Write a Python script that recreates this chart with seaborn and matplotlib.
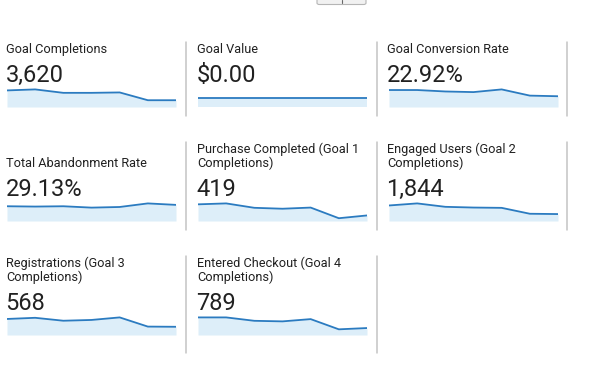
import matplotlib
matplotlib.use("Agg")
import matplotlib.pyplot as plt
import seaborn as sns
import pandas as pd
from matplotlib.patches import FancyBboxPatch
from matplotlib.lines import Line2D

# scorecard data (7 weekly points per sparkline)
weeks = [0, 1, 2, 3, 4, 5, 6]

titles = [
    "Goal Completions",
    "Goal Value",
    "Goal Conversion Rate",
    "Total Abandonment Rate",
    "Purchase Completed (Goal 1\nCompletions)",
    "Engaged Users (Goal 2\nCompletions)",
    "Registrations (Goal 3\nCompletions)",
    "Entered Checkout (Goal 4\nCompletions)",
]
totals = ["3,620", "$0.00", "22.92%", "29.13%", "419", "1,844", "568", "789"]

goal_completions = [656, 696, 560, 560, 576, 268, 268]
goal_value = [0, 0, 0, 0, 0, 0, 0]
conversion_rate = [24.6, 24.6, 22.5, 21.6, 25.5, 16.5, 15.6]
abandonment_rate = [28.0, 27.4, 28.0, 25.4, 26.6, 33.4, 30.6]
purchase_completed = [72, 76, 57, 53, 58, 12, 24]
engaged_users = [300, 340, 274, 260, 254, 140, 134]
registrations = [82, 88, 73, 77, 90, 43, 42]
entered_checkout = [124, 124, 100, 96, 112, 40, 49]

series = [goal_completions, goal_value, conversion_rate, abandonment_rate,
          purchase_completed, engaged_users, registrations, entered_checkout]

LINE = "#2b7bc0"
FILL = "#ddeef9"
TEXT = "#212121"
DIV = "#c4c4c4"

W, H = 601, 365
sns.set_theme(style="white")
plt.rcParams["font.family"] = ["Roboto", "DejaVu Sans"]

fig = plt.figure(figsize=(W / 100, H / 100), dpi=100)
fig.patch.set_facecolor("white")

def fx(px):
    return px / W

def fy(py):
    return 1 - py / H

col_text = [6, 197, 387]
col_spark = [7, 198, 389]
row_off = [0, 114, 228]
dividers = [(42, 116), (142, 230), (256, 353)]
div_x = [185.5, 376.5, 567.3]

for i, (title, total, vals) in enumerate(zip(titles, totals, series)):
    r, c = divmod(i, 3)
    off = row_off[r]
    # title (last line baseline fixed)
    n_lines = title.count("\n") + 1
    first_base = 52.7 + off - 14 * (n_lines - 1)
    for k, line in enumerate(title.split("\n")):
        fig.text(fx(col_text[c]), fy(first_base + 14 * k), line, fontsize=9.2,
                 color=TEXT, va="baseline", ha="left")
    fig.text(fx(col_text[c] - 0.5), fy(81.7 + off), total, fontsize=17,
             color=TEXT, va="baseline", ha="left")

    # sparkline
    bottom = 107 + off
    ax = fig.add_axes([fx(col_spark[c]), fy(bottom), 169 / W, 19 / H])
    df = pd.DataFrame({"week": weeks, "value": vals})
    ax.fill_between(df["week"], 0 if max(vals) > 0 else -1, df["value"],
                    color=FILL, linewidth=0)
    sns.lineplot(data=df, x="week", y="value", ax=ax, color=LINE, linewidth=1.3)
    ax.set_xlim(0, 6)
    if max(vals) > 0:
        ax.set_ylim(0, max(vals) * 1.08)
    else:
        ax.set_ylim(-1, 1)
    ax.set_axis_off()

# vertical dividers
for r, (y0, y1) in enumerate(dividers):
    ncols = 3 if r < 2 else 2
    for c in range(ncols):
        fig.add_artist(Line2D([fx(div_x[c]), fx(div_x[c])], [fy(y0), fy(y1)],
                              color=DIV, linewidth=1.1, transform=fig.transFigure))

# small button stub at the top
btn = FancyBboxPatch((fx(317), fy(4.5)), 49 / W, 8 / H,
                     boxstyle="round,pad=0,rounding_size=0.004",
                     facecolor="#f1f1f1", edgecolor="#b5b5b5", linewidth=0.8,
                     transform=fig.transFigure)
fig.add_artist(btn)
fig.add_artist(Line2D([fx(342), fx(342)], [fy(0), fy(3)], color="#666666",
                      linewidth=0.8, transform=fig.transFigure))

fig.savefig("out.png", dpi=100, facecolor="white")
